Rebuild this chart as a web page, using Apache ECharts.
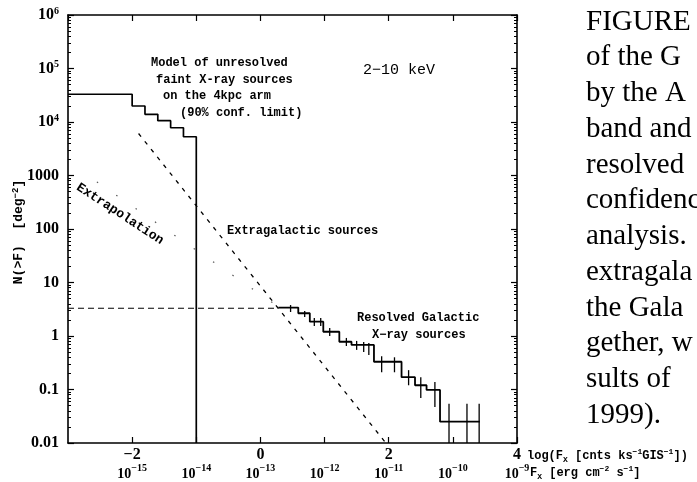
<!DOCTYPE html>
<html>
<head>
<meta charset="utf-8">
<script src="https://cdn.jsdelivr.net/npm/echarts@6.0.0/dist/echarts.min.js"></script>
<style>
  html, body { margin: 0; padding: 0; background: #fff; }
  #chart { width: 697px; height: 482px; }
</style>
</head>
<body>
<div id="chart"></div>
<script>
// x: log10 of count rate [cnts/ks/GIS]; y: N(>F) per square degree

// Upper limit for unresolved faint sources on the 4 kpc arm (step edges)
const modelLogS = [-3.0, -2.0, -1.8, -1.6, -1.4, -1.2, -1.0];
const modelN    = [33000, 19900, 13900, 10600, 7800, 5300, 0.01];

// Resolved Galactic sources, cumulative counts (step edges)
const galLogS = [0.28, 0.59, 0.77, 0.98, 1.23, 1.42, 1.77, 2.20, 2.41, 2.59, 2.80, 3.42];
const galN    = [3.4, 2.66, 1.85, 1.20, 0.78, 0.68, 0.33, 0.17, 0.12, 0.098, 0.025, 0.025];

// Error bars on the resolved counts
const errLogS = [0.47, 0.69, 0.84, 0.94, 1.08, 1.34, 1.50, 1.61, 1.69, 1.89, 2.09, 2.31, 2.50, 2.72, 2.94, 3.22, 3.41];
const errLo   = [2.81, 2.27, 1.54, 1.54, 1.00, 0.65, 0.55, 0.50, 0.44, 0.21, 0.21, 0.12, 0.069, 0.047, 0.01, 0.01, 0.01];
const errHi   = [3.79, 2.93, 2.17, 2.17, 1.41, 0.92, 0.81, 0.77, 0.74, 0.42, 0.40, 0.23, 0.17, 0.138, 0.054, 0.054, 0.054];

// Extragalactic logN-logS (slope -1.5)
const egLogS = [-1.9, 1.95];
const egN    = [6100, 0.0102];

// Extrapolation of the Galactic curve to faint fluxes
const exLogS = [-2.55, 0.30];
const exN    = [760, 3.4];

// Detection-limit level
const limLogS = [-3.0, 0.28];
const limN    = [3.3, 3.3];

// Axis text
const countTickValues = [-2, 0, 2, 4];
const fluxExponents   = [-15, -14, -13, -12, -11, -10, -9];   // at log count rate -2 .. 4
const yTickValues = [0.01, 0.1, 1, 10, 100, 1000, 1e4, 1e5, 1e6];
const yTickText   = ['0.01', '0.1', '1', '10', '100', '1000', '10{sup|4}', '10{sup|5}', '10{sup|6}'];

const paragraph = ['FIGURE', 'of the G', 'by the A', 'band and', 'resolved', 'confidence',
  'analysis.', 'extragala', 'the Gala', 'gether, w', 'sults of', '1999).'];

const modelText = ['Model of unresolved', 'faint X-ray sources', 'on the 4kpc arm', '(90% conf. limit)'];

const pair = (xs, ys) => xs.map((x, i) => [x, ys[i]]);

const MONO = '"Liberation Mono", "DejaVu Sans Mono", monospace';
const SERIF = '"Liberation Serif", "DejaVu Serif", serif';

const tickRich = {
  c:   { fontFamily: SERIF, fontWeight: 'bold', fontSize: 16, lineHeight: 16, color: '#000' },
  b:   { fontFamily: SERIF, fontWeight: 'bold', fontSize: 14, lineHeight: 18, verticalAlign: 'bottom', color: '#000' },
  sup: { fontFamily: SERIF, fontWeight: 'bold', fontSize: 10, lineHeight: 18, verticalAlign: 'top', color: '#000' }
};

const chart = echarts.init(document.getElementById('chart'), null, { renderer: 'canvas' });

const baseX = {
  type: 'value', min: -3, max: 4, interval: 1,
  axisLine: { show: true, onZero: false, lineStyle: { color: '#000', width: 1.6 } },
  axisTick: { show: true, inside: true, length: 6, lineStyle: { color: '#000', width: 1.2 } },
  splitLine: { show: false }
};
const baseY = {
  type: 'log', logBase: 10, min: 0.01, max: 1e6,
  axisLine: { show: true, onZero: false, lineStyle: { color: '#000', width: 1.6 } },
  axisTick: { show: true, inside: true, length: 6, lineStyle: { color: '#000', width: 1.2 } },
  minorTick: { show: true, splitNumber: 9, length: 3, lineStyle: { color: '#000', width: 1 } },
  splitLine: { show: false }
};

const option = {
  animation: false,
  backgroundColor: '#fff',
  grid: { left: 68, top: 15, width: 449, height: 428 },
  xAxis: [
    Object.assign({}, baseX, {
      position: 'bottom',
      axisLabel: {
        show: true, margin: 4, showMinLabel: false,
        rich: tickRich,
        formatter: function (v) {
          if (v < -2) return '';
          const top = countTickValues.indexOf(v) >= 0 ? '{c|' + (v < 0 ? '\u2212' + (-v) : v) + '}' : '{c| }';
          const e = fluxExponents[v + 2];
          return top + '\n{b|10}{sup|\u2212' + (-e) + '}';
        }
      }
    }),
    Object.assign({}, baseX, { position: 'top', axisLabel: { show: false } })
  ],
  yAxis: [
    Object.assign({}, baseY, {
      position: 'left',
      axisLabel: {
        show: true, margin: 9, color: '#000',
        fontFamily: SERIF, fontWeight: 'bold', fontSize: 16,
        rich: {
          sup: { fontFamily: SERIF, fontWeight: 'bold', fontSize: 10, lineHeight: 18, verticalAlign: 'top', color: '#000' }
        },
        formatter: function (v) {
          let best = 0;
          yTickValues.forEach((t, i) => {
            if (Math.abs(Math.log10(t) - Math.log10(v)) < Math.abs(Math.log10(yTickValues[best]) - Math.log10(v))) best = i;
          });
          return yTickText[best];
        }
      }
    }),
    Object.assign({}, baseY, { position: 'right', axisLabel: { show: false } })
  ],
  series: [
    {
      name: 'Unresolved model', type: 'line', step: 'end', showSymbol: false,
      data: pair(modelLogS, modelN),
      lineStyle: { color: '#000', width: 1.7 }, z: 3
    },
    {
      name: 'Resolved Galactic', type: 'line', step: 'end', showSymbol: false,
      data: pair(galLogS, galN),
      lineStyle: { color: '#000', width: 1.8 }, z: 3
    },
    {
      name: 'Errors', type: 'custom',
      data: errLogS.map((x, i) => [x, errLo[i], errHi[i]]),
      encode: { x: 0, y: [1, 2] },
      renderItem: function (params, api) {
        const a = api.coord([api.value(0), api.value(1)]);
        const b = api.coord([api.value(0), api.value(2)]);
        return { type: 'line', shape: { x1: a[0], y1: a[1], x2: b[0], y2: b[1] },
                 style: { stroke: '#000', lineWidth: 1.3 } };
      }, z: 4
    },
    {
      name: 'Extragalactic', type: 'line', showSymbol: false,
      data: pair(egLogS, egN),
      lineStyle: { color: '#000', width: 1.3, type: [4, 6] }, z: 2
    },
    {
      name: 'Extrapolation', type: 'line', showSymbol: false,
      data: pair(exLogS, exN),
      lineStyle: { color: '#555', width: 1.2, type: [1.5, 22] }, z: 2
    },
    {
      name: 'Limit', type: 'line', showSymbol: false,
      data: pair(limLogS, limN),
      lineStyle: { color: '#000', width: 1.2, type: [6, 4] }, z: 2
    }
  ],
  graphic: [
    // y-axis title
    { type: 'text', x: 19, y: 232, rotation: Math.PI / 2,
      style: { text: 'N(>F)  [deg{sup|\u22122}]', fill: '#000', font: 'bold 13px ' + MONO,
               align: 'center', verticalAlign: 'middle',
               rich: { sup: { font: 'bold 9px ' + MONO, verticalAlign: 'top', lineHeight: 15 } } } },
    // x-axis titles
    { type: 'text', x: 527, y: 456,
      style: { text: 'log(F{s|X} [cnts ks{p|\u22121}GIS{p|\u22121}])', fill: '#000', font: 'bold 12px ' + MONO,
               align: 'left', verticalAlign: 'middle',
               rich: { s: { font: 'bold 8px ' + MONO, verticalAlign: 'bottom', lineHeight: 16 },
                       p: { font: 'bold 8px ' + MONO, verticalAlign: 'top', lineHeight: 16 } } } },
    { type: 'text', x: 530, y: 473,
      style: { text: 'F{s|X} [erg cm{p|\u22122} s{p|\u22121}]', fill: '#000', font: 'bold 12px ' + MONO,
               align: 'left', verticalAlign: 'middle',
               rich: { s: { font: 'bold 8px ' + MONO, verticalAlign: 'bottom', lineHeight: 16 },
                       p: { font: 'bold 8px ' + MONO, verticalAlign: 'top', lineHeight: 16 } } } },
    // annotations inside the plot
    { type: 'group', children: modelText.map((t, i) => ({
        type: 'text', x: [151, 156, 163, 180][i], y: 63 + i * 16.5,
        style: { text: t, fill: '#000', font: 'bold 12px ' + MONO, align: 'left', verticalAlign: 'middle' } })) },
    { type: 'text', x: 363, y: 70,
      style: { text: '2\u221210 keV', fill: '#000', font: '15px ' + MONO, align: 'left', verticalAlign: 'middle' } },
    { type: 'text', x: 227, y: 231,
      style: { text: 'Extragalactic sources', fill: '#000', font: 'bold 12px ' + MONO, align: 'left', verticalAlign: 'middle' } },
    { type: 'text', x: 357, y: 318,
      style: { text: 'Resolved Galactic', fill: '#000', font: 'bold 12px ' + MONO, align: 'left', verticalAlign: 'middle' } },
    { type: 'text', x: 372, y: 335,
      style: { text: 'X\u2212ray sources', fill: '#000', font: 'bold 12px ' + MONO, align: 'left', verticalAlign: 'middle' } },
    { type: 'text', x: 120, y: 214, rotation: -0.58,
      style: { text: 'Extrapolation', fill: '#000', font: 'bold 13px ' + MONO, align: 'center', verticalAlign: 'middle' } },
    // caption column
    { type: 'group', children: paragraph.map((t, i) => ({
        type: 'text', x: 586, y: 22 + i * 35.75,
        style: { text: t, fill: '#000', font: '29px ' + SERIF, align: 'left', verticalAlign: 'middle' } })) }
  ]
};

chart.setOption(option);
</script>
</body>
</html>
